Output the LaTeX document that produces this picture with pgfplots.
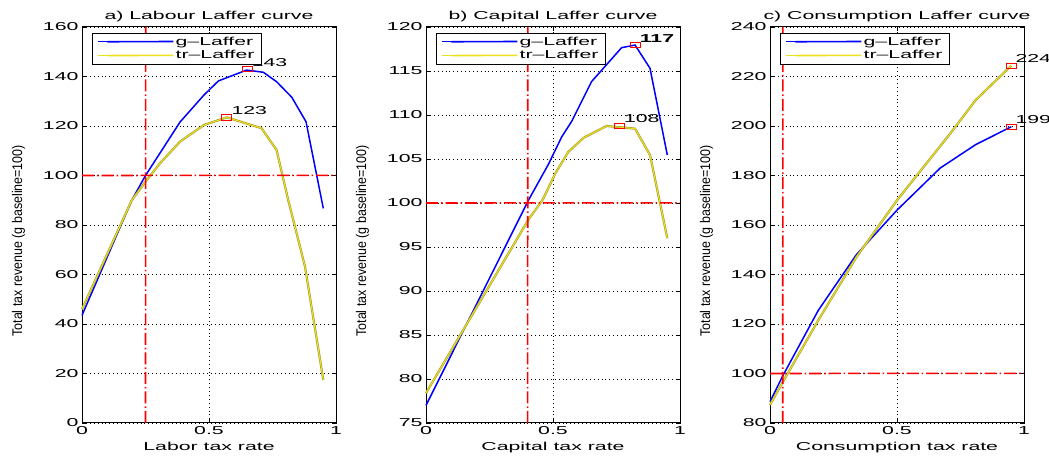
\documentclass[border=0pt]{standalone}
\usepackage{fontspec}
\setmainfont{Liberation Sans}
\usepackage{pgfplots}
\pgfplotsset{compat=1.18}
\definecolor{gblue}{RGB}{0,0,255}
\definecolor{tryel}{RGB}{235,225,30}
\definecolor{tredge}{RGB}{165,155,50}
\definecolor{rcol}{RGB}{255,0,0}
\pgfdeclareplotmark{wsq}{\pgfpathrectangle{\pgfpoint{-5pt}{-2.6pt}}{\pgfpoint{10pt}{5.2pt}}\pgfusepathqstroke}
\newcommand\tf{\fontsize{11.5}{13}\selectfont}
\newcommand\W[1]{\scalebox{1.85}[1]{#1}}
\pgfplotsset{
  every axis title shift=0pt,
  laff/.style={
    scale only axis, width=254pt, height=396pt,
    anchor=south west,
    xmin=0, xmax=1, xtick={0,0.5,1}, xticklabels={\W{0},\W{0.5},\W{1}},
    yticklabel={\W{\pgfmathprintnumber{\tick}}},
    tick align=inside, tick pos=both, major tick length=4pt,
    axis line style={line width=1pt},
    every tick/.style={black, line width=0.6pt},
    grid=major, major grid style={black, line width=0.5pt, dash pattern=on 0.7pt off 3.2pt},
    tick label style={font=\tf},
    /pgf/number format/assume math mode=true,
    scaled ticks=false,
    title style={font=\tf, at={(axis description cs:0.5,1)}, anchor=base, yshift=7pt},
    xlabel style={font=\tf, at={(axis description cs:0.5,0)}, anchor=base, yshift=-28pt},
    ylabel style={font=\fontsize{14}{16}\selectfont, at={(axis description cs:-0.25,0.46)}, anchor=center},
    ylabel={\scalebox{0.89}[1]{Total tax revenue (g baseline=100)}},
    legend style={at={(axis description cs:0.04,0.985)}, anchor=north west, draw=black, line width=0.8pt, fill=white, font=\tf, inner xsep=5pt, inner ysep=2pt, row sep=1pt, nodes={inner sep=1.5pt}},
    legend cell align=left,
    legend image code/.code={\path (0pt,0pt) -- (75pt,0pt); \draw[#1, line width=1.6pt] (9pt,0pt) -- (75pt,0.25pt);},
    clip=false,
  },
  gline/.style={gblue, line width=1.5pt},
  tline/.style={tryel, line width=1.0pt},
  tedge/.style={tredge, line width=2.2pt, forget plot},
  rline/.style={rcol, line width=1.6pt, dash pattern=on 12pt off 3pt on 1.5pt off 3pt, forget plot},
  pk/.style={rcol, only marks, mark=wsq, mark options={line width=0.8pt}, forget plot, point meta=explicit symbolic, nodes near coords={\W{\pgfplotspointmeta}}, nodes near coords style={text=black, font=\tf, anchor=base west, xshift=1pt, yshift=3pt}},
}
\begin{document}
\begin{tikzpicture}
\useasboundingbox (0,0) rectangle (1049pt,457pt);
% ---------- panel a
\begin{axis}[laff, at={(82pt,34pt)}, ymin=0, ymax=160, ytick={0,20,...,160},
  title={\W{a) Labour Laffer curve}}, xlabel={\W{Labor tax rate}}]
\addplot[gline] coordinates {(0,43.5) (0.196,90) (0.25,100) (0.386,121.6) (0.48,132.5) (0.537,138.2) (0.648,142.6) (0.714,141.7) (0.766,137.9) (0.826,131.6) (0.882,121.7) (0.95,86.7)};
\addlegendentry{\W{g--Laffer}}
\addplot[tedge] coordinates {(0,46) (0.196,90) (0.25,97.5) (0.307,104.9) (0.386,113.7) (0.48,120.4) (0.57,123.5) (0.707,119.1) (0.766,110.3) (0.812,90) (0.878,63.2) (0.95,17.4)};
\addplot[tline] coordinates {(0,46) (0.196,90) (0.25,97.5) (0.307,104.9) (0.386,113.7) (0.48,120.4) (0.57,123.5) (0.707,119.1) (0.766,110.3) (0.812,90) (0.878,63.2) (0.95,17.4)};
\addlegendentry{\W{tr--Laffer}}
\addplot[rline] coordinates {(0,100) (1,100.08)};
\addplot[rline] coordinates {(0.25,0) (0.2508,160)};
\addplot[pk] coordinates {(0.65,143)[143] (0.57,123.5)[123]};
\end{axis}
% ---------- panel b
\begin{axis}[laff, at={(426pt,34pt)}, ymin=75, ymax=120, ytick={75,80,...,120},
  title={\W{b) Capital Laffer curve}}, xlabel={\W{Capital tax rate}}]
\addplot[gline] coordinates {(0,77) (0.403,100.3) (0.482,104.4) (0.534,107.5) (0.574,109.3) (0.652,113.8) (0.77,117.65) (0.823,117.95) (0.882,115.3) (0.95,105.45)};
\addlegendentry{\W{g--Laffer}}
\addplot[tedge] coordinates {(0,78.4) (0.403,98.1) (0.46,100.4) (0.51,103.4) (0.56,105.8) (0.62,107.4) (0.711,108.75) (0.823,108.45) (0.882,105.45) (0.95,96.0)};
\addplot[tline] coordinates {(0,78.4) (0.403,98.1) (0.46,100.4) (0.51,103.4) (0.56,105.8) (0.62,107.4) (0.711,108.75) (0.823,108.45) (0.882,105.45) (0.95,96.0)};
\addlegendentry{\W{tr--Laffer}}
\addplot[rline] coordinates {(0,100) (1,100.02)};
\addplot[rline] coordinates {(0.4,75) (0.4008,120)};
\addplot[pk] coordinates {(0.823,117.95)[\textbf{117}] (0.761,108.75)[108]};
\end{axis}
% ---------- panel c
\begin{axis}[laff, at={(770pt,34pt)}, ymin=80, ymax=240, ytick={80,100,...,240},
  title={\W{c) Consumption Laffer curve}}, xlabel={\W{Consumption tax rate}}]
\addplot[gline] coordinates {(0,88.6) (0.05,99) (0.19,125.5) (0.34,148) (0.5,166) (0.67,183) (0.81,192.5) (0.95,199.7)};
\addlegendentry{\W{g--Laffer}}
\addplot[tedge] coordinates {(0,87.3) (0.05,96.5) (0.19,121.5) (0.34,147) (0.5,170) (0.57,179) (0.71,197) (0.81,210.5) (0.95,224.4)};
\addplot[tline] coordinates {(0,87.3) (0.05,96.5) (0.19,121.5) (0.34,147) (0.5,170) (0.57,179) (0.71,197) (0.81,210.5) (0.95,224.4)};
\addlegendentry{\W{tr--Laffer}}
\addplot[rline] coordinates {(0,100) (1,100.08)};
\addplot[rline] coordinates {(0.05,80) (0.0508,240)};
\addplot[pk, nodes near coords style={xshift=-0.5pt}] coordinates {(0.95,199.7)[199] (0.95,224.4)[224]};
\end{axis}
\end{tikzpicture}
\end{document}
